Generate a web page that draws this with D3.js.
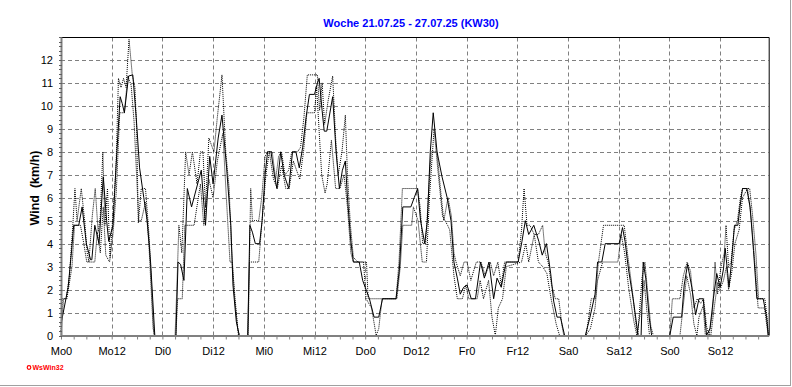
<!DOCTYPE html>
<html>
<head>
<meta charset="utf-8">
<script src="https://cdn.jsdelivr.net/npm/d3@7"></script>
<style>
    body { margin: 0; background: #fff; }
    #chart { width: 792px; height: 387px; }
    text { font-family: Arial, "Liberation Sans", sans-serif; }
</style>
</head>
<body>
<div id="chart"></div>
<script>
// hours since Mo 00:00 -> km/h
var windAvg = [[0,0.5],[1.7,2.1],[2.5,3.7],[3,4.8],[4.2,4.8],[5,5.6],[6,4.0],[7,3.3],[7.3,3.3],[8,4.8],[9,4.0],[10,6.9],[10.8,5.0],[11.3,4.1],[12.3,4.8],[13,7.3],[14,10.4],[14.5,10.1],[15,9.7],[16,11.3],[17,11.35],[17.8,9.5],[18.6,7.3],[19.6,6.0],[20.4,5.0],[21.2,3.2],[22.2,0],[27.2,0],[27.7,3.2],[28.3,3.1],[29.1,2.4],[29.9,6.4],[30.9,5.6],[33.2,7.2],[34.2,4.8],[35.2,7.8],[36,6.6],[37.2,8.6],[38.1,9.6],[39.2,7.3],[40.2,4.8],[40.7,2.2],[41.5,0.6],[42.2,0],[44.2,0],[44.7,4.8],[45.3,4.5],[46,4.0],[47,4.0],[47.6,5.0],[48.3,7.0],[48.9,8.0],[49.7,8.0],[50.5,7.0],[51.1,6.4],[52,8.0],[52.8,7.0],[53.9,6.4],[54.8,8.0],[55.6,8.0],[56.4,7.3],[57.2,8.2],[58,9.5],[58.8,10.5],[60,10.5],[60.7,11.0],[61.1,11.2],[61.8,9.8],[62.3,8.9],[62.9,8.9],[64.3,10.4],[65.1,8.0],[65.9,6.4],[66.6,7.2],[67.3,7.6],[67.8,6.0],[68.6,4.1],[69.2,3.2],[70.6,3.2],[71.4,2.4],[73,1.6],[74.1,0.8],[75.2,0.8],[76.1,1.6],[79.3,1.6],[80.1,2.9],[80.9,5.6],[82.8,5.6],[83.6,6.0],[84.4,6.4],[85.1,5.0],[86.1,4.0],[86.7,5.0],[87.4,8.0],[88.1,9.7],[89,8.0],[90.2,6.9],[91.4,6.0],[92.3,5.0],[93,3.2],[93.8,2.5],[94.5,1.8],[95.3,2.1],[96.1,2.2],[97.1,1.6],[98.1,1.6],[99.3,3.2],[100.2,2.5],[101.3,3.2],[102.4,1.6],[103.2,2.5],[104.2,2.1],[104.8,2.7],[105.4,3.2],[108.2,3.2],[109.1,4.1],[109.9,5.0],[110.7,4.4],[111.9,4.8],[113.1,4.1],[113.9,3.5],[114.9,4.0],[115.9,2.7],[116.6,1.5],[117.4,0.8],[118.2,0.8],[119.2,0],[124.1,0],[125.2,0.8],[126.4,1.8],[127,3.2],[128,3.2],[128.8,4.0],[132.1,4.0],[132.9,4.7],[133.5,4.1],[134.3,2.9],[135.5,1.5],[136.6,0],[137.3,0],[137.8,3.2],[138.4,2.5],[139.2,0.8],[139.8,0],[144.1,0],[144.9,0.8],[146.9,0.8],[147.5,2.2],[148.3,3.1],[149.3,2.1],[150.2,0.9],[151,1.6],[152,1.6],[152.8,0],[153.6,0.3],[154.4,1.6],[155.2,2.7],[156,2.1],[156.8,2.9],[157.2,3.8],[157.8,2.7],[158.1,2.1],[158.7,3.2],[159.4,4.8],[160.2,4.8],[160.7,5.6],[161.3,6.4],[162.3,6.4],[163.1,5.6],[163.9,3.7],[164.7,1.6],[166.2,1.6],[167,0.8],[167.4,0]];

var windMax = [[0,0.2],[0.3,1.6],[1.2,1.6],[2,2.6],[2.8,4.8],[3.3,6.4],[3.8,5.0],[4.8,6.4],[5.6,5.0],[6.2,3.6],[6.6,3.2],[7.4,5.2],[8.1,6.4],[8.8,4.5],[9.3,5.2],[9.9,8.0],[10.4,4.8],[11,6.4],[11.6,3.4],[12.2,5.0],[13,7.2],[13.6,11.2],[14.2,10.8],[14.8,11.2],[15.4,10.8],[16.1,12.9],[16.9,11.3],[17.5,10.8],[17.9,9.0],[18.3,4.9],[19,6.4],[20,6.4],[20.9,4.2],[21.6,1.5],[22.0,0],[27,0],[27.4,2.0],[27.9,4.8],[28.6,3.6],[29.5,8.0],[30.3,7.0],[31.1,8.0],[32.2,6.6],[33.0,8.0],[33.6,8.0],[34.2,5.6],[35.0,8.6],[36.2,8.0],[37.0,9.5],[38.1,11.35],[39.0,8.0],[39.8,6.4],[40.3,4.0],[41.1,1.6],[41.8,0.3],[42.2,0],[44.3,0],[44.9,6.4],[45.3,5.0],[46.8,5.0],[47.5,6.0],[48.3,7.8],[48.9,8.0],[50,8.0],[50.8,6.8],[51.5,7.8],[52.2,8.0],[53,7.0],[53.9,7.2],[54.6,8.0],[56,8.0],[56.7,8.2],[57.5,9.5],[58.3,11.35],[60.7,11.35],[61.2,9.8],[61.8,11.0],[62.4,9.2],[63.2,10.2],[64.3,11.3],[65,8.6],[65.6,7.0],[66.5,8.0],[67.3,9.6],[67.8,7.0],[68.5,4.8],[69.2,3.4],[70.3,3.2],[72.3,3.2],[72.7,1.6],[79.3,1.6],[80.0,3.2],[80.8,6.4],[84.4,6.4],[85,5.6],[85.6,4.0],[86.3,4.0],[87,6.2],[87.6,8.0],[89,8.0],[89.8,6.4],[90.6,5.0],[91.6,6.0],[92.4,5.2],[93,3.6],[93.5,3.2],[94.5,2.6],[95.4,3.2],[96.1,3.2],[97,2.4],[98.3,3.2],[99.4,3.2],[100.4,2.6],[101.6,3.2],[102.4,2.6],[103.4,3.2],[104.2,2.2],[105,3.2],[108.2,3.2],[109,4.6],[109.6,6.4],[110.3,4.8],[111,4.8],[112,4.4],[113,4.4],[114,4.8],[114.6,3.6],[115.3,3.2],[116.1,2.2],[117,1.6],[117.8,1.6],[118.6,0.4],[119,0],[124.3,0],[125.5,1.6],[126.5,1.6],[127.2,3.2],[128.4,4.8],[133.3,4.8],[134.2,3.4],[135.2,2.0],[136,0.6],[136.5,0],[137.5,2.5],[138.2,3.2],[139,1.6],[139.6,0.4],[140.2,0],[144.1,0],[144.7,1.6],[146.5,1.6],[147.3,2.6],[148.2,3.2],[149,2.8],[149.8,1.2],[150.6,1.6],[151.4,1.4],[152.1,1.6],[152.8,0.4],[153.4,0],[154.2,1.0],[154.8,3.2],[155.4,1.8],[156.2,3.0],[157,3.6],[157.4,4.8],[158,3.0],[158.6,3.2],[159.3,4.6],[160.1,5.0],[160.8,6.0],[161.3,6.4],[163,6.4],[163.7,5.2],[164.5,3.5],[165.1,1.6],[166.6,1.6],[167.1,0.8],[167.4,0]];

var windMin = [[0,0],[0.6,1.6],[1.4,1.6],[2.6,3.0],[3.2,4.8],[4.6,4.8],[5.4,4.0],[6.1,3.2],[8.0,3.2],[8.6,4.5],[9.3,3.6],[10.0,5.6],[10.6,3.5],[11.5,3.2],[12.3,4.4],[13.1,6.3],[13.9,9.7],[15.0,9.7],[15.8,11.3],[16.6,10.9],[17.3,9.3],[18.4,5.0],[19.0,5.0],[20.0,5.8],[20.8,4.0],[21.8,0.3],[22.2,0],[27.2,0],[27.6,1.6],[28.7,1.6],[29.3,4.8],[31.5,4.8],[33.0,6.6],[33.8,4.8],[35,6.8],[36,6.0],[37,7.6],[38.3,8.8],[39.2,5.8],[40.0,3.2],[40.5,3.2],[41.2,1.6],[42.0,0],[44.2,0],[44.6,3.2],[46.8,3.2],[47.5,4.8],[48.5,7.0],[49.3,8.0],[50.3,6.8],[51.2,6.4],[52.2,7.4],[53.2,6.4],[54,6.4],[55,7.6],[56.5,6.8],[57.4,8.0],[58.2,9.7],[60,9.7],[60.5,10.8],[61.7,7.0],[62.5,6.2],[63,6.6],[64,8.5],[65,6.4],[66,6.4],[67,7.0],[67.8,5.6],[68.6,3.6],[69.2,3.2],[71.6,3.2],[72.2,1.6],[73.5,1.2],[74.6,0],[75.2,0.3],[76,1.6],[79.5,1.6],[80.3,3.0],[80.9,4.8],[83,4.8],[83.4,5.6],[84.5,5.0],[85.5,3.2],[86.5,3.2],[87.2,6.0],[88.3,9.0],[89.2,7.2],[90.3,5.2],[91.5,4.8],[92,4.6],[93,2.6],[93.8,1.6],[95,1.6],[95.8,2.2],[96.5,1.6],[98.5,1.6],[99.2,2.4],[100,1.6],[101.2,2.4],[102,0.8],[102.8,0],[103.5,1.2],[104.5,1.6],[105.4,3.0],[109,3.2],[110,4.0],[110.7,3.2],[112,4.4],[113,3.2],[114,3.0],[115,2.7],[116,1.6],[117.2,0.5],[118,0],[124.2,0],[125.3,0.3],[126.4,1.2],[127,2.4],[128.2,3.2],[131.8,3.2],[132.6,4.4],[133.4,3.6],[134.4,2.0],[135.6,0.6],[136.3,0],[137.6,1.6],[138,2.4],[138.7,1.0],[139.3,0],[146.5,0],[147.4,1.5],[148.1,2.6],[149,1.8],[149.8,0.5],[150.5,0],[151,0.8],[152,1.3],[152.5,0],[153.8,0],[154.6,1.2],[155.4,2.3],[156,2.0],[156.8,2.4],[157.5,3.0],[158,2.0],[158.8,2.8],[159.5,4.0],[160.5,4.6],[161.3,6.0],[162.5,6.4],[163.4,5.0],[164.3,3.0],[165,1.2],[166.5,1.2],[167,0.5],[167.4,0]];

var xTickHours = [0, 12, 24, 36, 48, 60, 72, 84, 96, 108, 120, 132, 144, 156];
var xTickLabels = ["Mo0", "Mo12", "Di0", "Di12", "Mi0", "Mi12", "Do0", "Do12", "Fr0", "Fr12", "Sa0", "Sa12", "So0", "So12"];
var yTicks = [0, 1, 2, 3, 4, 5, 6, 7, 8, 9, 10, 11, 12];

var titleText = "Woche 21.07.25 - 27.07.25 (KW30)";
var yLabel = "Wind  (km/h)";

var WindChart = function(container) {
    var self = this;
    this.chart = document.getElementById(container);
    self.setProperties();

    this.svg = d3.select(this.chart).append("svg")
        .attr("width", this.cx)
        .attr("height", this.cy);

    self.draw();
}

WindChart.prototype.setProperties = function() {
    this.cx = 792;
    this.cy = 387;
    this.padding = { "top": 37, "bottom": 51.5, "left": 61, "right": 23.3 };

    this.x = d3.scaleLinear()
        .domain([0, 167.5])
        .range([this.padding.left, this.cx - this.padding.right]);

    this.y = d3.scaleLinear()
        .domain([0, 13])
        .range([this.cy - this.padding.bottom, this.padding.top]);
}

WindChart.prototype.draw = function() {
    var self = this;
    var svg = this.svg;
    var x0 = self.x.range()[0], x1 = self.x.range()[1];
    var y0 = self.y.range()[0], y1 = self.y.range()[1];

    svg.append("rect").attr("width", this.cx).attr("height", this.cy).attr("fill", "#fff");

    // frame shadow, right + bottom
    svg.append("line").attr("x1", 0).attr("x2", 791).attr("y1", 385.5).attr("y2", 385.5)
        .attr("stroke", "#a0a0a0");
    svg.append("line").attr("x1", 790.5).attr("x2", 790.5).attr("y1", 0).attr("y2", 386)
        .attr("stroke", "#a0a0a0");

    svg.append("text")
        .attr("x", 411).attr("y", 27)
        .attr("text-anchor", "middle")
        .style("font-size", "11px").style("font-weight", "bold")
        .attr("fill", "#0000ff")
        .text(titleText);

    // grid
    var grid = svg.append("g").attr("stroke", "#808080").attr("stroke-dasharray", "4,3");
    grid.selectAll(".hg").data(yTicks.filter(function(d) { return d > 0; }))
        .enter().append("line")
        .attr("x1", x0).attr("x2", x1)
        .attr("y1", function(d) { return Math.round(self.y(d)) + 0.5; })
        .attr("y2", function(d) { return Math.round(self.y(d)) + 0.5; });
    grid.selectAll(".vg").data(xTickHours.filter(function(d) { return d > 0; }))
        .enter().append("line")
        .attr("y1", y0).attr("y2", y1)
        .attr("x1", function(d) { return Math.round(self.x(d)) + 0.5; })
        .attr("x2", function(d) { return Math.round(self.x(d)) + 0.5; });

    // top and right border
    svg.append("path")
        .attr("d", "M" + x0 + "," + (y1 + 0.5) + "H" + (x1 + 0.5) + "V" + y0)
        .attr("fill", "none").attr("stroke", "#000");

    var line = d3.line()
        .x(function(d) { return self.x(d[0]); })
        .y(function(d) { return self.y(d[1]); });

    svg.append("path").datum(windMax).attr("d", line)
        .attr("fill", "none").attr("stroke", "#000").attr("stroke-dasharray", "1,1");
    svg.append("path").datum(windMin).attr("d", line)
        .attr("fill", "none").attr("stroke", "#000").attr("stroke-dasharray", "1,1");
    svg.append("path").datum(windAvg).attr("d", line)
        .attr("fill", "none").attr("stroke", "#000").attr("stroke-width", 1);

    // axes
    var xAxis = d3.axisBottom(self.x)
        .tickValues(d3.range(0, 168, 3))
        .tickSize(4)
        .tickSizeOuter(0)
        .tickFormat(function(d) {
            var i = xTickHours.indexOf(d);
            return i < 0 ? "" : xTickLabels[i];
        });
    var gx = svg.append("g")
        .attr("transform", "translate(0," + y0 + ")")
        .call(xAxis);
    gx.select(".domain").attr("stroke", "#808080").attr("stroke-width", 2);
    gx.selectAll(".tick line").attr("stroke", "#808080");
    gx.selectAll(".tick text")
        .attr("y", 12).attr("dy", "0.71em")
        .style("font-size", "11px").attr("fill", "#000");

    var yAxis = d3.axisLeft(self.y)
        .tickValues(yTicks)
        .tickSize(0)
        .tickPadding(8)
        .tickFormat(d3.format("d"));
    var gy = svg.append("g")
        .attr("transform", "translate(" + x0 + ",0)")
        .call(yAxis);
    gy.select(".domain").attr("stroke", "#808080").attr("stroke-width", 2);
    gy.selectAll(".tick text").style("font-size", "11px").attr("fill", "#000");

    // small ruler ticks on the y axis
    gy.selectAll(".minor").data(d3.range(0, 13.01, 0.2))
        .enter().append("line")
        .attr("x1", -2).attr("x2", 1)
        .attr("y1", function(d) { return Math.round(self.y(d)) + 0.5; })
        .attr("y2", function(d) { return Math.round(self.y(d)) + 0.5; })
        .attr("stroke", "#606060");

    svg.append("text")
        .attr("transform", "translate(39," + 188 + ") rotate(-90)")
        .attr("text-anchor", "middle")
        .style("font-size", "12.5px").style("font-weight", "bold")
        .style("white-space", "pre")
        .text(yLabel);

    // logo
    svg.append("circle").attr("cx", 29).attr("cy", 367.5).attr("r", 1.8)
        .attr("fill", "none").attr("stroke", "#ff0000").attr("stroke-width", 1.2);
    svg.append("text")
        .attr("x", 32.5).attr("y", 370)
        .style("font-size", "7px").style("font-weight", "bold")
        .attr("fill", "#ff0000")
        .text("WsWin32");
}

var chart = new WindChart("chart");
</script>
</body>
</html>
